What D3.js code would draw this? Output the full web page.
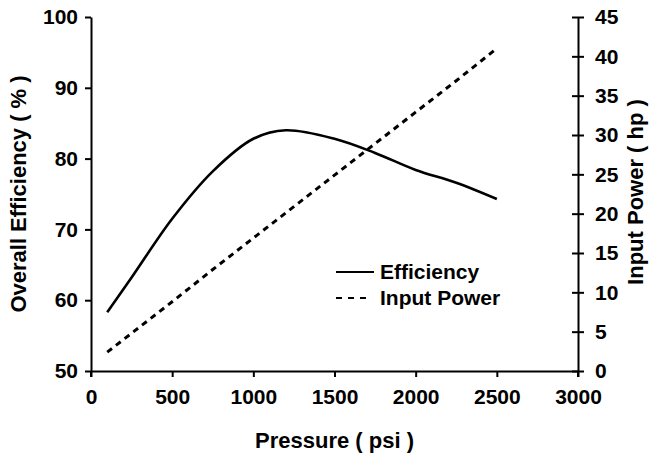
<!DOCTYPE html>
<html><head><meta charset="utf-8">
<script src="https://cdn.jsdelivr.net/npm/d3@7"></script>
<style>
body{margin:0;background:#fff;}
text{font-family:"Liberation Sans",Arial,sans-serif;font-weight:bold;fill:#000;}
</style></head>
<body><svg id="c" width="649" height="457"></svg>
<script>
const pressure = [100, 250, 500, 750, 1000, 1200, 1500, 1750, 2000, 2250, 2500];
const efficiency = [58.3, 63.2, 71.5, 78.2, 82.8, 84.0, 82.8, 80.8, 78.4, 76.6, 74.3];
const inputPower = [2.4, 4.8, 8.8, 12.9, 16.9, 20.1, 24.9, 28.9, 32.9, 36.9, 41.0];
const xTicks = [0, 500, 1000, 1500, 2000, 2500, 3000];
const yLeftTicks = [50, 60, 70, 80, 90, 100];
const yRightTicks = [0, 5, 10, 15, 20, 25, 30, 35, 40, 45];
const seriesNames = ["Efficiency", "Input Power"];
const xTitle = "Pressure ( psi )";
const yLeftTitle = "Overall Efficiency ( % )";
const yRightTitle = "Input Power ( hp )";

const svg = d3.select("#c");
const L = 91, R = 578, T = 17, B = 371;
const x = d3.scaleLinear().domain([0, 3000]).range([L, R]);
const yL = d3.scaleLinear().domain([50, 100]).range([B, T]);
const yR = d3.scaleLinear().domain([0, 45]).range([B, T]);
const fmt = d3.format("d");

const gx = svg.append("g").attr("transform", `translate(0,${B})`)
  .call(d3.axisBottom(x).tickValues(xTicks).tickFormat(fmt).tickSize(6).tickPadding(12).tickSizeOuter(0));
const gl = svg.append("g").attr("transform", `translate(${L},0)`)
  .call(d3.axisLeft(yL).tickValues(yLeftTicks).tickFormat(fmt).tickSize(6).tickPadding(7).tickSizeOuter(0));
const gr = svg.append("g").attr("transform", `translate(${R},0)`)
  .call(d3.axisRight(yR).tickValues(yRightTicks).tickFormat(fmt).tickSize(6).tickPadding(11).tickSizeOuter(0));
gr.selectAll(".tick line").attr("x1", -6);

[gx, gl, gr].forEach(g => {
  g.select(".domain").attr("stroke", "#000").attr("stroke-width", 2);
  g.selectAll(".tick line").attr("stroke", "#000").attr("stroke-width", 2);
  g.selectAll(".tick text").style("font-size", "21px").style("font-family", '"Liberation Sans",Arial,sans-serif').style("font-weight", "bold").attr("fill", "#000");
});
svg.append("line").attr("x1", L).attr("x2", L).attr("y1", B).attr("y2", B + 6).attr("stroke", "#000").attr("stroke-width", 2);
svg.append("line").attr("x1", R).attr("x2", R).attr("y1", B).attr("y2", B + 6).attr("stroke", "#000").attr("stroke-width", 2);

svg.append("text").attr("x", (L + R) / 2).attr("y", 448).attr("text-anchor", "middle").style("font-size", "22px").text(xTitle);
svg.append("text").attr("transform", `translate(26,${(T + B) / 2}) rotate(-90)`).attr("text-anchor", "middle").style("font-size", "22px").text(yLeftTitle);
svg.append("text").attr("transform", `translate(643,${(T + B) / 2 - 2}) rotate(-90)`).attr("text-anchor", "middle").style("font-size", "22px").text(yRightTitle);

const effData = pressure.map((p, i) => [p, efficiency[i]]);
const powData = pressure.map((p, i) => [p, inputPower[i]]);
svg.append("path").datum(effData)
  .attr("d", d3.line().x(d => x(d[0])).y(d => yL(d[1])).curve(d3.curveCatmullRom.alpha(0.5)))
  .attr("fill", "none").attr("stroke", "#000").attr("stroke-width", 2.6);
svg.append("path").datum(powData)
  .attr("d", d3.line().x(d => x(d[0])).y(d => yR(d[1])))
  .attr("fill", "none").attr("stroke", "#000").attr("stroke-width", 3).attr("stroke-dasharray", "6,5");

const leg = svg.append("g");
leg.append("line").attr("x1", 336).attr("x2", 374).attr("y1", 272).attr("y2", 272).attr("stroke", "#000").attr("stroke-width", 2);
leg.append("line").attr("x1", 336).attr("x2", 370).attr("y1", 298).attr("y2", 298).attr("stroke", "#000").attr("stroke-width", 2).attr("stroke-dasharray", "6,6");
leg.append("text").attr("x", 380).attr("y", 272).attr("dy", "0.35em").style("font-size", "21px").text(seriesNames[0]);
leg.append("text").attr("x", 380).attr("y", 298).attr("dy", "0.35em").style("font-size", "21px").text(seriesNames[1]);
</script></body></html>
